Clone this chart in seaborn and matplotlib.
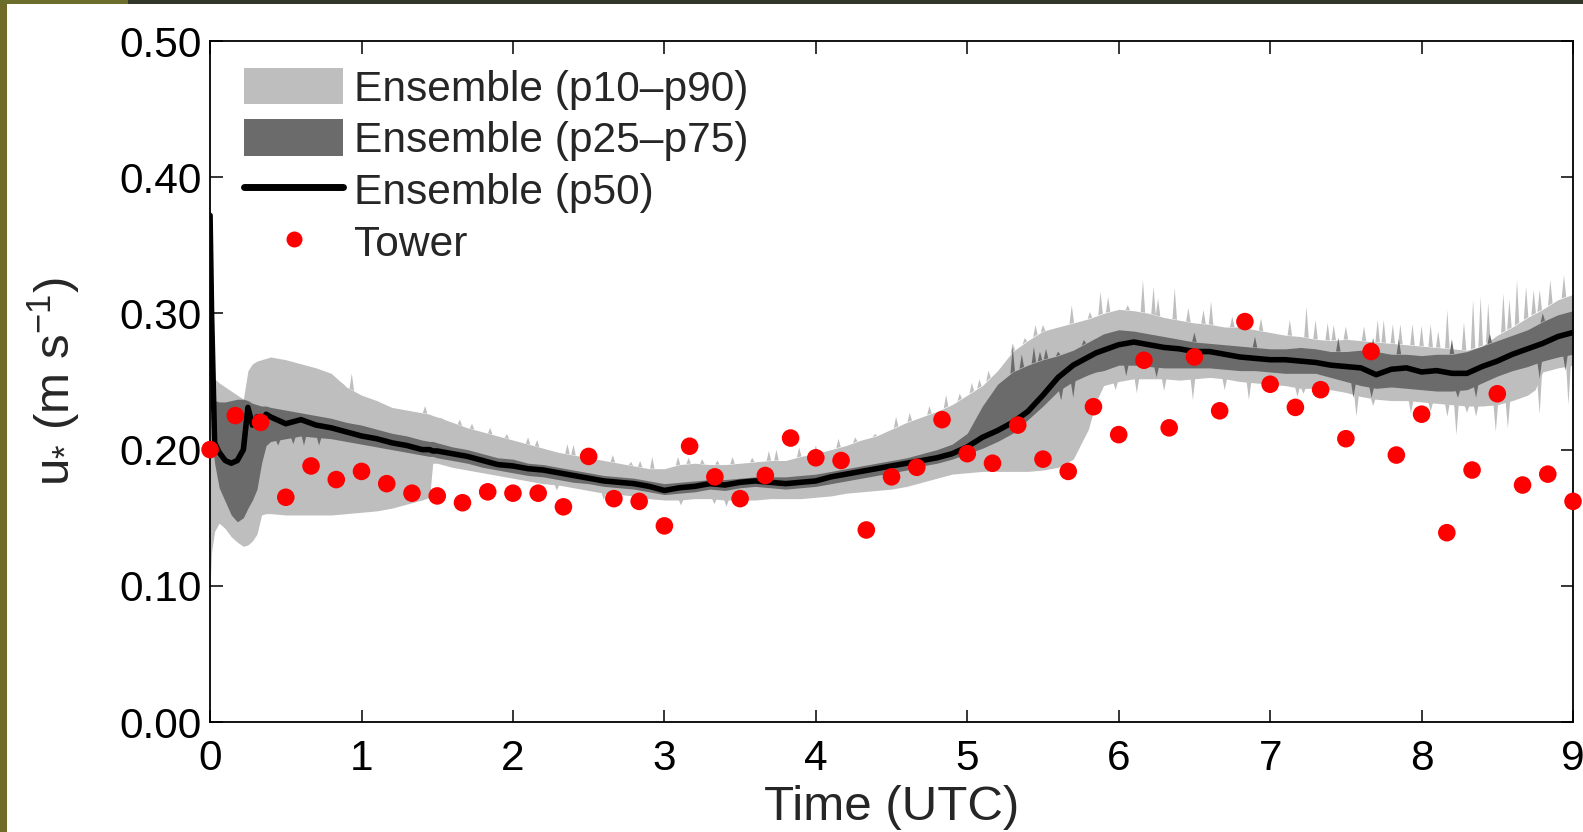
import numpy as np
import matplotlib
matplotlib.use("Agg")
import matplotlib.pyplot as plt
import seaborn as sns
from matplotlib.patches import Patch, Rectangle
from matplotlib.lines import Line2D
from matplotlib.collections import PolyCollection

# ---------------- data ----------------
time_h = [0.00, 0.01, 0.03, 0.06, 0.10, 0.14, 0.18, 0.22, 0.25, 0.28, 0.31, 0.34, 0.37,
          0.4, 0.5, 0.6, 0.7, 0.8, 0.9, 1.0, 1.1, 1.2, 1.3, 1.4, 1.45, 1.47,
          1.5, 1.6, 1.7, 1.8, 1.9, 2.0, 2.1, 2.2, 2.3, 2.4, 2.5, 2.6, 2.7, 2.8, 2.9,
          3.0, 3.1, 3.2, 3.3, 3.4, 3.5, 3.6, 3.7, 3.8, 3.9,
          4.0, 4.1, 4.2, 4.3, 4.4, 4.5, 4.6, 4.7, 4.8, 4.9,
          5.0, 5.1, 5.2, 5.3, 5.4, 5.5, 5.6, 5.7, 5.8, 5.85,
          5.9,
          6.0, 6.1, 6.2, 6.3, 6.4, 6.5, 6.6, 6.7, 6.8, 6.9,
          7.0, 7.1, 7.2, 7.3, 7.4, 7.5, 7.6, 7.7, 7.8, 7.9,
          8.0, 8.1, 8.2, 8.3, 8.4, 8.5, 8.6, 8.7, 8.75,
          8.8, 8.9, 9.0]

p90 = [0.400, 0.262, 0.252, 0.249, 0.246, 0.243, 0.240, 0.237, 0.258, 0.263, 0.265, 0.266, 0.267,
       0.268, 0.266, 0.263, 0.260, 0.256, 0.246, 0.240, 0.236, 0.231, 0.229, 0.227, 0.226, 0.225,
       0.224, 0.220, 0.216, 0.213, 0.210, 0.207, 0.204, 0.201, 0.198, 0.196, 0.194, 0.192, 0.190, 0.188, 0.186,
       0.186, 0.189, 0.190, 0.189, 0.189, 0.190, 0.191, 0.192, 0.192, 0.195,
       0.197, 0.200, 0.203, 0.207, 0.210, 0.215, 0.220, 0.224, 0.228, 0.233,
       0.240, 0.247, 0.258, 0.272, 0.280, 0.287, 0.290, 0.293, 0.296, 0.298,
       0.300,
       0.303, 0.302, 0.300, 0.297, 0.295, 0.293, 0.292, 0.290, 0.290, 0.288,
       0.286, 0.284, 0.283, 0.281, 0.280, 0.281, 0.280, 0.279, 0.278, 0.277,
       0.276, 0.275, 0.274, 0.273, 0.276, 0.284, 0.290, 0.297, 0.300,
       0.303, 0.310, 0.314]

p75 = [0.385, 0.240, 0.236, 0.235, 0.235, 0.236, 0.237, 0.237, 0.236, 0.234, 0.233, 0.232, 0.232,
       0.231, 0.229, 0.227, 0.225, 0.223, 0.220, 0.218, 0.215, 0.212, 0.210, 0.207, 0.206, 0.206,
       0.205, 0.202, 0.200, 0.197, 0.194, 0.193, 0.190, 0.189, 0.187, 0.185, 0.183, 0.181, 0.180, 0.179, 0.177,
       0.175, 0.176, 0.177, 0.178, 0.178, 0.179, 0.180, 0.180, 0.180, 0.181,
       0.182, 0.184, 0.186, 0.188, 0.190, 0.192, 0.194, 0.197, 0.200, 0.204,
       0.212, 0.232, 0.248, 0.257, 0.262, 0.266, 0.269, 0.273, 0.279, 0.282,
       0.285,
       0.288, 0.287, 0.285, 0.283, 0.281, 0.279, 0.278, 0.277, 0.276, 0.275,
       0.274, 0.274, 0.275, 0.274, 0.272, 0.272, 0.273, 0.272, 0.270, 0.270,
       0.269, 0.270, 0.270, 0.272, 0.276, 0.280, 0.284, 0.288, 0.291,
       0.294, 0.299, 0.302]

p50 = [0.372, 0.300, 0.205, 0.198, 0.192, 0.190, 0.192, 0.200, 0.231, 0.218, 0.224, 0.219, 0.226,
       0.224, 0.219, 0.222, 0.218, 0.216, 0.213, 0.210, 0.208, 0.205, 0.203, 0.200, 0.200, 0.199,
       0.199, 0.197, 0.195, 0.192, 0.189, 0.188, 0.186, 0.185, 0.183, 0.181, 0.179, 0.177, 0.176, 0.175, 0.173,
       0.170, 0.172, 0.173, 0.175, 0.174, 0.176, 0.177, 0.176, 0.175, 0.176,
       0.177, 0.180, 0.182, 0.184, 0.186, 0.188, 0.190, 0.192, 0.194, 0.197,
       0.202, 0.209, 0.214, 0.220, 0.228, 0.240, 0.253, 0.262, 0.268, 0.271,
       0.273,
       0.277, 0.279, 0.277, 0.275, 0.274, 0.272, 0.272, 0.270, 0.268, 0.267,
       0.266, 0.266, 0.265, 0.264, 0.262, 0.261, 0.260, 0.255, 0.259, 0.260,
       0.257, 0.258, 0.256, 0.256, 0.261, 0.265, 0.270, 0.274, 0.276,
       0.278, 0.283, 0.286]

p25 = [0.300, 0.210, 0.190, 0.172, 0.162, 0.152, 0.147, 0.150, 0.157, 0.163, 0.171, 0.190, 0.203,
       0.206, 0.208, 0.210, 0.209, 0.208, 0.206, 0.204, 0.202, 0.200, 0.198, 0.196, 0.195, 0.195,
       0.194, 0.192, 0.190, 0.187, 0.185, 0.183, 0.181, 0.180, 0.178, 0.176, 0.175, 0.173, 0.172, 0.171, 0.169,
       0.167, 0.168, 0.169, 0.171, 0.170, 0.172, 0.173, 0.172, 0.171, 0.172,
       0.173, 0.175, 0.177, 0.179, 0.181, 0.183, 0.185, 0.188, 0.190, 0.193,
       0.197, 0.201, 0.206, 0.212, 0.222, 0.232, 0.243, 0.250, 0.255, 0.257,
       0.258,
       0.262, 0.262, 0.261, 0.260, 0.260, 0.260, 0.260, 0.259, 0.258, 0.258,
       0.257, 0.256, 0.256, 0.256, 0.253, 0.250, 0.247, 0.245, 0.246, 0.245,
       0.244, 0.243, 0.243, 0.244, 0.249, 0.254, 0.258, 0.261, 0.263,
       0.265, 0.268, 0.270]

p10 = [0.100, 0.125, 0.140, 0.146, 0.142, 0.136, 0.132, 0.129, 0.130, 0.133, 0.138, 0.152, 0.153,
       0.153, 0.152, 0.152, 0.152, 0.152, 0.153, 0.154, 0.155, 0.157, 0.160, 0.163, 0.165, 0.190,
       0.190, 0.187, 0.185, 0.183, 0.181, 0.179, 0.177, 0.175, 0.174, 0.172, 0.170, 0.168, 0.167, 0.166, 0.164,
       0.163, 0.163, 0.164, 0.164, 0.163, 0.163, 0.163, 0.164, 0.164, 0.164,
       0.165, 0.166, 0.168, 0.169, 0.170, 0.171, 0.173, 0.176, 0.179, 0.182,
       0.183, 0.184, 0.184, 0.184, 0.184, 0.185, 0.187, 0.193, 0.215, 0.235,
       0.247,
       0.250, 0.252, 0.252, 0.252, 0.251, 0.252, 0.253, 0.252, 0.250, 0.249,
       0.248, 0.247, 0.245, 0.245, 0.244, 0.242, 0.239, 0.237, 0.236, 0.236,
       0.235, 0.234, 0.233, 0.232, 0.232, 0.233, 0.236, 0.240, 0.244,
       0.257, 0.260, 0.262]

# upward spikes of p90 (time, peak)
p90_spike_t = [0.88, 0.936, 1.42, 1.53, 1.65, 1.73, 1.85, 1.96, 2.10, 2.16, 2.36, 2.40, 2.50,
               2.66, 2.78, 2.84, 2.92, 3.09, 3.16, 3.25, 3.35, 3.45, 3.58, 3.69, 3.74, 3.89,
               4.00, 4.15, 4.26, 4.39, 4.53, 4.62, 4.75, 4.86, 4.95, 5.03, 5.08, 5.14, 5.30,
               5.38, 5.45, 5.50, 5.69, 5.81, 5.88, 5.93, 6.06, 6.16, 6.23, 6.26, 6.37, 6.46,
               6.56, 6.61, 6.75, 6.82, 6.94, 7.13, 7.24, 7.30, 7.38, 7.42, 7.50, 7.62, 7.71,
               7.75, 7.81, 7.86, 7.94, 8.00, 8.06, 8.11, 8.17, 8.28, 8.34, 8.39, 8.44, 8.54,
               8.58, 8.63, 8.69, 8.74, 8.78, 8.85, 8.94]
p90_spike_v = [0.246, 0.256, 0.232, 0.2195, 0.222, 0.219, 0.216, 0.2114, 0.209, 0.207, 0.204, 0.2035, 0.199,
               0.196, 0.191, 0.1917, 0.1946, 0.1946, 0.194, 0.193, 0.192, 0.1946, 0.194, 0.199, 0.200, 0.2017,
               0.203, 0.208, 0.209, 0.2114, 0.224, 0.227, 0.232, 0.240, 0.241, 0.249, 0.2515, 0.258, 0.278,
               0.282, 0.2915, 0.2915, 0.306, 0.301, 0.316, 0.312, 0.306, 0.3245, 0.3197, 0.311, 0.3187, 0.304,
               0.3026, 0.3088, 0.2977, 0.297, 0.2965, 0.2952, 0.305, 0.295, 0.293, 0.2915, 0.2905, 0.2905, 0.2952,
               0.2952, 0.292, 0.292, 0.292, 0.291, 0.292, 0.287, 0.3025, 0.2936, 0.310, 0.3123, 0.3075, 0.3148,
               0.310, 0.3245, 0.3197, 0.3173, 0.3173, 0.3245, 0.328]

# downward spikes of p10 (time, trough)
p10_spike_t = [2.29, 2.60, 2.70, 3.11, 3.33, 3.41, 5.98, 6.12, 6.30, 6.49, 6.70, 6.86, 6.97,
               7.18, 7.22, 7.57, 7.68, 7.93, 8.06, 8.17, 8.23, 8.30, 8.36, 8.49, 8.57, 8.78, 8.97]
p10_spike_v = [0.170, 0.163, 0.162, 0.159, 0.160, 0.158, 0.2437, 0.2413, 0.243, 0.2364, 0.2437, 0.2364, 0.243,
               0.2389, 0.241, 0.2242, 0.232, 0.2266, 0.228, 0.2242, 0.2107, 0.227, 0.2242, 0.2131, 0.2156, 0.226, 0.2327]

# upward spikes of p75 and downward spikes of p25
p75_spike_t = [5.30, 5.36, 5.44, 5.48, 5.52, 5.60, 5.77, 6.50, 6.90, 7.45, 7.68, 7.85, 8.20, 8.45, 8.80]
p75_spike_v = [0.2755, 0.270, 0.2755, 0.272, 0.274, 0.272, 0.2805, 0.286, 0.283, 0.282, 0.282, 0.281, 0.281, 0.285, 0.300]
p25_spike_t = [0.45, 0.55, 0.62, 0.72, 5.62, 5.70, 6.05, 6.25, 7.55, 7.67, 8.24, 8.36, 8.78, 8.95]
p25_spike_v = [0.203, 0.204, 0.203, 0.203, 0.236, 0.238, 0.254, 0.253, 0.238, 0.238, 0.238, 0.238, 0.252, 0.258]

tower_t = np.arange(55) / 6.0
tower_u = [0.200, 0.225, 0.220, 0.165, 0.188, 0.178, 0.184, 0.175, 0.168, 0.166, 0.161,
           0.169, 0.168, 0.168, 0.158, 0.195, 0.164, 0.162, 0.144, 0.2025, 0.180, 0.164,
           0.181, 0.2085, 0.194, 0.192, 0.141, 0.180, 0.187, 0.222, 0.197, 0.190, 0.218,
           0.193, 0.184, 0.2315, 0.211, 0.2656, 0.216, 0.268, 0.2285, 0.294, 0.248, 0.231,
           0.244, 0.208, 0.272, 0.196, 0.226, 0.139, 0.185, 0.241, 0.174, 0.182, 0.162]

labels = ["Ensemble (p10\u2013p90)", "Ensemble (p25\u2013p75)", "Ensemble (p50)", "Tower"]
yticks = [0.0, 0.1, 0.2, 0.3, 0.4, 0.5]
xticks = [0, 1, 2, 3, 4, 5, 6, 7, 8, 9]

# ---------------- style ----------------
LIGHT = "#bebebe"
DARK = "#6b6b6b"

sns.set_theme(style="ticks")
plt.rcParams["font.family"] = ["Liberation Sans", "DejaVu Sans"]
plt.rcParams["mathtext.fontset"] = "custom"
plt.rcParams["mathtext.rm"] = "Liberation Sans"
plt.rcParams["mathtext.it"] = "Liberation Sans:italic"
plt.rcParams["mathtext.default"] = "regular"

T = np.array(time_h)
assert len(T) == len(p90) == len(p75) == len(p50) == len(p25) == len(p10)

fig = plt.figure(figsize=(15.83, 8.32), dpi=100)
fig.patch.set_facecolor("white")
ax = fig.add_axes([0.1327, 0.1322, 0.8610, 0.8185])

def add_spikes(ts, vs, ref, color, z, w=0.015):
    polys = []
    for t, v in zip(ts, vs):
        b0 = np.interp(t - w, T, ref)
        b1 = np.interp(t + w, T, ref)
        polys.append([(t - w, b0), (t, v), (t + w, b1)])
    ax.add_collection(PolyCollection(polys, facecolor=color, edgecolor="none",
                                     linewidth=0, zorder=z))

ax.fill_between(T, np.array(p10), np.array(p90), color=LIGHT, lw=0, zorder=1)
add_spikes(p90_spike_t, p90_spike_v, p90, LIGHT, 1)
add_spikes(p10_spike_t, p10_spike_v, p10, LIGHT, 1)
ax.fill_between(T, np.array(p25), np.array(p75), color=DARK, lw=0, zorder=2)
add_spikes(p75_spike_t, p75_spike_v, p75, DARK, 2)
add_spikes(p25_spike_t, p25_spike_v, p25, DARK, 2)

sns.lineplot(x=T, y=np.array(p50), ax=ax, color="black", linewidth=4.0,
             zorder=3, legend=False)
sns.scatterplot(x=tower_t, y=np.array(tower_u), ax=ax, color="red", s=160,
                edgecolor="none", linewidth=0, zorder=4, legend=False, clip_on=False)

ax.set_xlim(0, 9)
ax.set_ylim(0, 0.5)
ax.set_xticks(xticks)
ax.set_yticks(yticks)
ax.set_xticklabels([str(x) for x in xticks])
ax.set_yticklabels([f"{y:.2f}" for y in yticks])

ax.tick_params(axis="both", which="major", direction="in", length=9, width=1.1,
               top=True, right=True, labelsize=30.5, colors="black")
ax.tick_params(axis="x", pad=12)
ax.tick_params(axis="y", pad=6)
for sp in ax.spines.values():
    sp.set_visible(True)
    sp.set_linewidth(1.3)
    sp.set_color("black")

ax.set_xlabel("Time (UTC)", fontsize=35.5)
ax.set_ylabel(r"u$_{*}$ (m s$^{-1}$)", fontsize=35.5)
ax.xaxis.set_label_coords(0.5, -0.092)
ax.yaxis.set_label_coords(-0.093, 0.5)

handles = [Patch(facecolor=LIGHT, edgecolor="none"),
           Patch(facecolor=DARK, edgecolor="none"),
           Line2D([], [], color="black", lw=5),
           Line2D([], [], marker="o", ls="none", color="red", markersize=11.5,
                  markeredgewidth=0)]
ax.legend(handles, labels, loc="upper left", bbox_to_anchor=(0.025, 0.961),
          frameon=False, fontsize=30.6, handlelength=2.33, handleheight=0.95,
          handletextpad=0.25, labelspacing=0.23, borderpad=0, borderaxespad=0)

# screenshot border strips
fig.patches.append(Rectangle((0, 0), 7 / 1583, 1, transform=fig.transFigure,
                             facecolor="#706c28", edgecolor="none", zorder=10))
fig.patches.append(Rectangle((0, 1 - 4 / 832), 128 / 1583, 4 / 832, transform=fig.transFigure,
                             facecolor="#6b6e2c", edgecolor="none", zorder=10))
fig.patches.append(Rectangle((128 / 1583, 1 - 4 / 832), 1, 4 / 832, transform=fig.transFigure,
                             facecolor="#33372a", edgecolor="none", zorder=10))

fig.savefig("out.png", dpi=100, facecolor="white")
